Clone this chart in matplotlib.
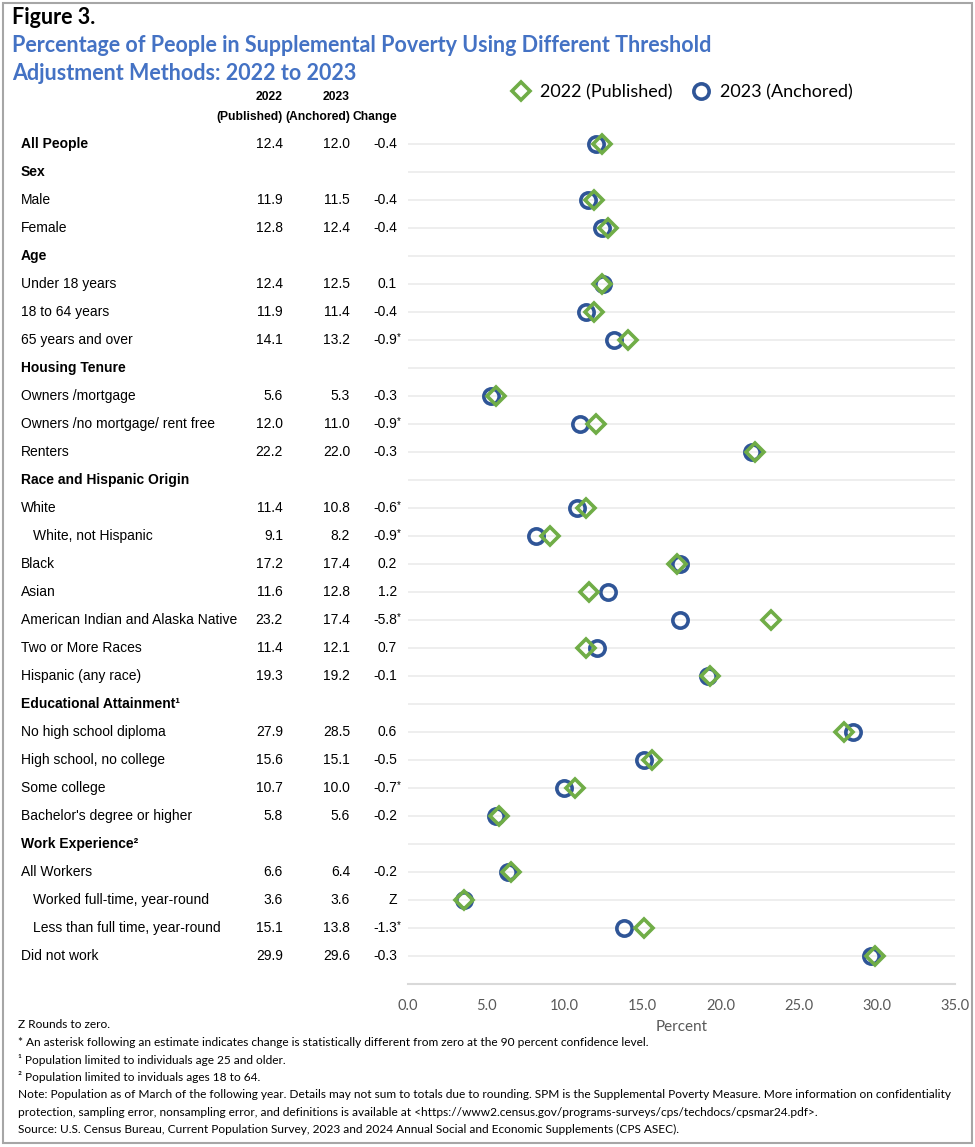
import numpy as np
import matplotlib.pyplot as plt
import matplotlib.transforms as mtransforms
from matplotlib.patches import Rectangle

# rows of the table, top to bottom (section headers have no values)
labels = ["All People", "Sex", "Male", "Female", "Age", "Under 18 years",
          "18 to 64 years", "65 years and over", "Housing Tenure",
          "Owners /mortgage", "Owners /no mortgage/ rent free", "Renters",
          "Race and Hispanic Origin", "White", "White, not Hispanic", "Black",
          "Asian", "American Indian and Alaska Native", "Two or More Races",
          "Hispanic (any race)", "Educational Attainment\u00b9",
          "No high school diploma", "High school, no college", "Some college",
          "Bachelor's degree or higher", "Work Experience\u00b2", "All Workers",
          "Worked full-time, year-round", "Less than full time, year-round",
          "Did not work"]
nan = np.nan
published = [12.4, nan, 11.9, 12.8, nan, 12.4, 11.9, 14.1, nan, 5.6, 12.0, 22.2,
             nan, 11.4, 9.1, 17.2, 11.6, 23.2, 11.4, 19.3, nan, 27.9, 15.6, 10.7,
             5.8, nan, 6.6, 3.6, 15.1, 29.9]
anchored = [12.0, nan, 11.5, 12.4, nan, 12.5, 11.4, 13.2, nan, 5.3, 11.0, 22.0,
            nan, 10.8, 8.2, 17.4, 12.8, 17.4, 12.1, 19.2, nan, 28.5, 15.1, 10.0,
            5.6, nan, 6.4, 3.6, 13.8, 29.6]
change = ["-0.4", "", "-0.4", "-0.4", "", "0.1", "-0.4", "-0.9*", "", "-0.3",
          "-0.9*", "-0.3", "", "-0.6*", "-0.9*", "0.2", "1.2", "-5.8*", "0.7",
          "-0.1", "", "0.6", "-0.5", "-0.7*", "-0.2", "", "-0.2", "Z", "-1.3*",
          "-0.3"]
indented = ["White, not Hispanic", "Worked full-time, year-round",
            "Less than full time, year-round"]
xticks = [0, 5, 10, 15, 20, 25, 30, 35]

footnotes = [
    "Z Rounds to zero.",
    "* An asterisk following an estimate indicates change is statistically different from zero at the 90 percent confidence level.",
    "\u00b9 Population limited to individuals age 25 and older.",
    "\u00b2 Population limited to inviduals ages 18 to 64.",
    "Note: Population as of March of the following year. Details may not sum to totals due to rounding. SPM is the Supplemental Poverty Measure. More information on confidentiality",
    "protection, sampling error, nonsampling error, and definitions is available at <https://www2.census.gov/programs-surveys/cps/techdocs/cpsmar24.pdf>.",
    "Source: U.S. Census Bureau, Current Population Survey, 2023 and 2024 Annual Social and Economic Supplements (CPS ASEC).",
]

GREEN = "#70AD47"
BLUE = "#2F5597"
TITLE_BLUE = "#4472C4"
GRAY = "#595959"
NARROW = ["Liberation Sans", "DejaVu Sans"]
BODY = ["Lato", "DejaVu Sans"]

W, H = 975, 1147
fig = plt.figure(figsize=(W / 100, H / 100), dpi=100)

def fx(px):
    return px / W

def fy(py):
    return 1 - py / H

ax = fig.add_axes([fx(408), fy(984), fx(955) - fx(408), fy(116) - fy(984)])
y = np.arange(len(labels))

# gridlines at every row
for yy in y:
    ax.axhline(yy, color="#EBEBEB", lw=1.2, zorder=0)

ax.plot(anchored, y, "o", ms=11, mfc="none", mec=BLUE, mew=2.6,
        label="2023 (Anchored)", zorder=3)
ax.plot(published, y, "D", ms=9.5, mfc="none", mec=GREEN, mew=2.6,
        label="2022 (Published)", zorder=4)

ax.set_xlim(0, 35)
ax.set_ylim(len(labels), -1)
ax.set_xticks(xticks)
ax.set_xticklabels(["%.1f" % t for t in xticks], fontsize=10.5, color=GRAY,
                   family=BODY)
ax.tick_params(axis="x", length=0, pad=11)
ax.set_yticks([])
for s in ["top", "right", "left"]:
    ax.spines[s].set_visible(False)
ax.spines["bottom"].set_color("#D9D9D9")
ax.spines["bottom"].set_linewidth(1.5)
ax.set_xlabel("Percent", fontsize=11, color=GRAY, family=BODY, labelpad=5)

# legend, diamond first
h, l = ax.get_legend_handles_labels()
fig.legend(h[::-1], l[::-1], loc="center left", bbox_to_anchor=(fx(494), fy(92)),
           ncol=2, frameon=False, prop={"family": BODY, "size": 13},
           handletextpad=0.45, columnspacing=1.0, handlelength=1.2)

# table on the left, rows tied to the axes' y positions
trans = mtransforms.blended_transform_factory(fig.transFigure, ax.transData)
for i, lab in enumerate(labels):
    bold = np.isnan(published[i]) or i == 0
    x0 = 33 if lab in indented else 21
    ax.text(fx(x0), i, lab, transform=trans, ha="left", va="center",
            fontsize=10, family=NARROW, fontweight="bold" if bold else "normal",
            color="black")
    if np.isnan(published[i]):
        continue
    ax.text(fx(283), i, "%.1f" % published[i], transform=trans, ha="right",
            va="center", fontsize=10, family=NARROW)
    ax.text(fx(350), i, "%.1f" % anchored[i], transform=trans, ha="right",
            va="center", fontsize=10, family=NARROW)
    c = change[i]
    ax.text(fx(397), i, c.rstrip("*"), transform=trans, ha="right",
            va="center", fontsize=10, family=NARROW)
    if c.endswith("*"):
        ax.text(fx(397), i - 0.12, "*", transform=trans, ha="left",
                va="center", fontsize=7, family=NARROW)

# column headers
for xr, top, bottom in [(283, "2022", "(Published)"), (350, "2023", "(Anchored)"),
                        (397, "", "Change")]:
    fig.text(fx(xr), fy(97), top, ha="right", va="center", fontsize=8.7,
             family=NARROW, fontweight="bold")
    fig.text(fx(xr), fy(117), bottom, ha="right", va="center", fontsize=8.7,
             family=NARROW, fontweight="bold")

# titles
fig.text(fx(12), fy(18), "Figure 3.", ha="left", va="center", fontsize=15.5,
         family=BODY, fontweight="bold")
fig.text(fx(12), fy(46), "Percentage of People in Supplemental Poverty Using Different Threshold",
         ha="left", va="center", fontsize=15.5, family=BODY, fontweight="bold",
         color=TITLE_BLUE)
fig.text(fx(12), fy(74), "Adjustment Methods: 2022 to 2023", ha="left",
         va="center", fontsize=15.5, family=BODY, fontweight="bold",
         color=TITLE_BLUE)

# footnotes
for k, line in enumerate(footnotes):
    fig.text(fx(18), fy(1025 + k * 17.4), line, ha="left", va="center",
             fontsize=8.6, family=BODY, color="black")

# border around the whole figure
fig.patches.append(Rectangle((fx(3), fy(1143)), fx(969), fy(3) - fy(1143),
                             transform=fig.transFigure, fill=False,
                             edgecolor="#A6A6A6", lw=1.5))

fig.savefig("out.png", dpi=100)
